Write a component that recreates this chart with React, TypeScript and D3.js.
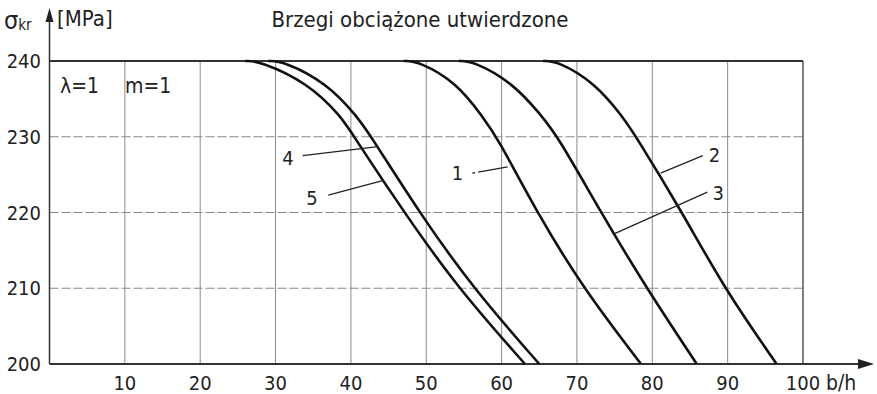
import * as d3 from "d3";

// values: [b/h, sigma_kr in MPa]
const curve1: [number, number][] = [
  [47.0, 240], [48.9, 240], [54.1, 237.1], [57.5, 232.6], [59.4, 230],
  [64.8, 219.8], [70.9, 209.9], [78.5, 200],
];
const curve2: [number, number][] = [
  [65.5, 240], [67.4, 240], [72.4, 237.1], [76.1, 232.6], [77.8, 230.1],
  [84.1, 219.8], [89.6, 209.9], [96.5, 200],
];
const curve3: [number, number][] = [
  [54.3, 240], [56.2, 240], [61.5, 237.1], [65.2, 232.9], [67.5, 230],
  [73.3, 219.8], [79.3, 209.9], [85.9, 200],
];
const curve4: [number, number][] = [
  [29.0, 240], [31.0, 240], [36.8, 237.1], [40.9, 232.6], [42.7, 230],
  [49.2, 219.8], [56.3, 209.9], [65.0, 200],
];
const curve5: [number, number][] = [
  [26.0, 240], [27.9, 240], [34.3, 237.1], [38.8, 232.6], [40.4, 230],
  [47.2, 219.8], [54.3, 209.9], [63.1, 200],
];
const curves = [curve1, curve2, curve3, curve4, curve5];

const xTicks = [10, 20, 30, 40, 50, 60, 70, 80, 90, 100];
const yTicks = [200, 210, 220, 230, 240];

// curve number, label point, leader line (data units)
const labelNames = ["1", "2", "3", "4", "5"];
const labelAt: [number, number][] = [
  [54.9, 225.2], [87.5, 227.6], [88.0, 222.6], [32.4, 227.2], [35.6, 221.9],
];
const lineFrom: [number, number][] = [
  [56.1, 225.2], [86.7, 227.5], [87.3, 222.7], [33.6, 227.5], [37.0, 222.3],
];
const lineTo: [number, number][] = [
  [61.2, 226.1], [81.1, 225.2], [75.0, 217.2], [43.6, 228.7], [44.2, 224.2],
];

const width = 877;
const height = 394;
const font = "'Liberation Sans Narrow', 'DejaVu Sans Condensed', 'Roboto', sans-serif";

export default function App() {
  const x = d3.scaleLinear().domain([0, 100]).range([49.5, 803]);
  const y = d3.scaleLinear().domain([200, 240]).range([364, 61]);

  const line = d3
    .line<[number, number]>()
    .x((d) => x(d[0]))
    .y((d) => y(d[1]))
    .curve(d3.curveBasis);

  const x0 = x(0);
  const y0 = y(200);

  return (
    <svg
      width={width}
      height={height}
      style={{ position: "absolute", left: 0, top: 0, background: "#fff" }}
      fontFamily={font}
    >
      <rect width={width} height={height} fill="#fff" />

      {/* grid */}
      {xTicks.slice(0, -1).map((t) => (
        <line key={"vx" + t} x1={x(t)} x2={x(t)} y1={y(240)} y2={y0} stroke="#8a8a8a" strokeWidth={1} />
      ))}
      {yTicks.slice(1, -1).map((t) => (
        <line key={"hy" + t} x1={x0} x2={x(100)} y1={y(t)} y2={y(t)} stroke="#8a8a8a" strokeWidth={1} strokeDasharray="9 3" />
      ))}
      <line x1={x(100)} x2={x(100)} y1={y(240)} y2={y0} stroke="#555" strokeWidth={1.5} />
      <line x1={x0} x2={x(100)} y1={y(240)} y2={y(240)} stroke="#333" strokeWidth={2} />

      {/* axes */}
      <line x1={x0} x2={x0} y1={y0} y2={16} stroke="#333" strokeWidth={1.5} />
      <path d={`M${x0},8 L${x0 - 4},22 L${x0 + 4},22 Z`} fill="#222" />
      <line x1={x0} x2={860} y1={y0} y2={y0} stroke="#333" strokeWidth={2} />
      <path d={`M874,${y0} L858,${y0 - 5} L858,${y0 + 5} Z`} fill="#222" />

      {/* curves */}
      {curves.map((c, i) => (
        <path key={"c" + i} d={line(c) ?? ""} fill="none" stroke="#111" strokeWidth={2.6} />
      ))}

      {/* curve labels */}
      {labelNames.map((n, i) => (
        <g key={"l" + n}>
          <line
            x1={x(lineFrom[i][0])}
            y1={y(lineFrom[i][1])}
            x2={x(lineTo[i][0])}
            y2={y(lineTo[i][1])}
            stroke="#222"
            strokeWidth={1.3}
            strokeDasharray={n === "1" ? "3 3 30" : undefined}
          />
          <text
            x={x(labelAt[i][0])}
            y={y(labelAt[i][1])}
            textAnchor={n === "2" || n === "3" ? "start" : "end"}
            dominantBaseline="central"
            fontSize={20}
            fill="#222"
          >
            {n}
          </text>
        </g>
      ))}

      {/* tick labels */}
      {yTicks.map((t) => (
        <text key={"yt" + t} x={41} y={y(t)} textAnchor="end" dominantBaseline="central" fontSize={20} fill="#222">
          {t}
        </text>
      ))}
      {xTicks.map((t) => (
        <text key={"xt" + t} x={x(t)} y={383} textAnchor="middle" dominantBaseline="central" fontSize={20} fill="#222">
          {t}
        </text>
      ))}
      <text x={826} y={383} dominantBaseline="central" fontSize={21} fill="#222">b/h</text>

      {/* axis title and heading */}
      <text x={4} y={20} dominantBaseline="central" fontSize={25} fill="#222">
        σ<tspan fontSize={15} dy={5}>kr</tspan>
      </text>
      <text x={57} y={18} dominantBaseline="central" fontSize={22} fill="#222">[MPa]</text>
      <text x={420} y={19} textAnchor="middle" dominantBaseline="central" fontSize={22} fill="#222">
        Brzegi obciążone utwierdzone
      </text>
      <text x={60} y={86} dominantBaseline="central" fontSize={21} fill="#222">
        λ=1<tspan dx={26}>m=1</tspan>
      </text>
    </svg>
  );
}
